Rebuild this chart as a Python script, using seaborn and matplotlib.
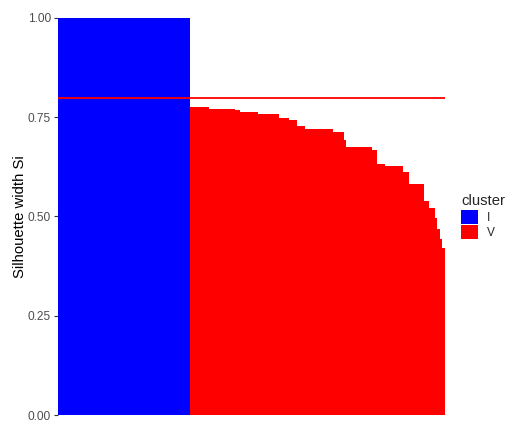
import numpy as np
import pandas as pd
import matplotlib
matplotlib.use("Agg")
import matplotlib.pyplot as plt
import seaborn as sns

# Silhouette widths per observation, sorted within each cluster
cluster_names = ["I", "V"]
sil_I = [1.0] * 51
sil_V = ([0.775] * 7 + [0.772] * 10 + [0.768] * 2 + [0.762] * 7 + [0.758] * 8
         + [0.747] * 4 + [0.743] * 3 + [0.729] * 3 + [0.721] * 11 + [0.714] * 4
         + [0.693] * 1 + [0.674] * 10 + [0.667] * 2 + [0.631] * 3 + [0.628] * 7
         + [0.613] * 2 + [0.582] * 6 + [0.539] * 2 + [0.522] * 2
         + [0.495, 0.468, 0.443, 0.420])
cluster_colors = {"I": "#0000FF", "V": "#FF0000"}

sil = sil_I + sil_V
clusters = ["I"] * len(sil_I) + ["V"] * len(sil_V)
df = pd.DataFrame({
    "id": [str(i) for i in range(len(sil))],
    "sil": sil,
    "cluster": pd.Categorical(clusters, categories=cluster_names),
})
avg_sil = float(np.mean(sil))

sns.set_style("white")
plt.rcParams["font.family"] = ["Liberation Sans", "DejaVu Sans"]

fig = plt.figure(figsize=(5.08, 4.21), dpi=100)
ax = fig.add_axes([58 / 508, 1 - 415 / 421, (445 - 58) / 508, (415 - 18) / 421])

sns.barplot(data=df, x="id", y="sil", hue="cluster", palette=cluster_colors,
            dodge=False, width=1.0, linewidth=0, saturation=1, ax=ax,
            order=list(df["id"]))
ax.axhline(avg_sil, color="#FF0000", linewidth=1.3)

ax.set_xlim(-0.5, len(sil) - 0.5)
ax.set_ylim(0, 1)
ax.set_yticks([0, 0.25, 0.5, 0.75, 1.0])
ax.set_yticklabels(["0.00", "0.25", "0.50", "0.75", "1.00"])
ax.set_xticks([])
ax.set_xlabel("")
ax.set_ylabel("Silhouette width Si", fontsize=10.7, color="black", labelpad=1)
ax.tick_params(axis="y", length=3, width=0.8, color="#333333",
               labelcolor="#4D4D4D", labelsize=8.6, pad=2, left=True)
for s in ax.spines.values():
    s.set_visible(False)

handles, labels = ax.get_legend_handles_labels()
ax.get_legend().remove()
leg = ax.legend(handles, labels, title="cluster", loc="upper left",
                bbox_to_anchor=(459 / 508, 1 - 192 / 421),
                bbox_transform=fig.transFigure, frameon=False,
                fontsize=8.6, title_fontsize=10.7,
                handlelength=1.4, handleheight=1.4, handletextpad=0.7,
                labelspacing=0.12, borderaxespad=0, borderpad=0.2)
leg._legend_box.align = "left"

fig.savefig("out.png", dpi=100, facecolor="white")
